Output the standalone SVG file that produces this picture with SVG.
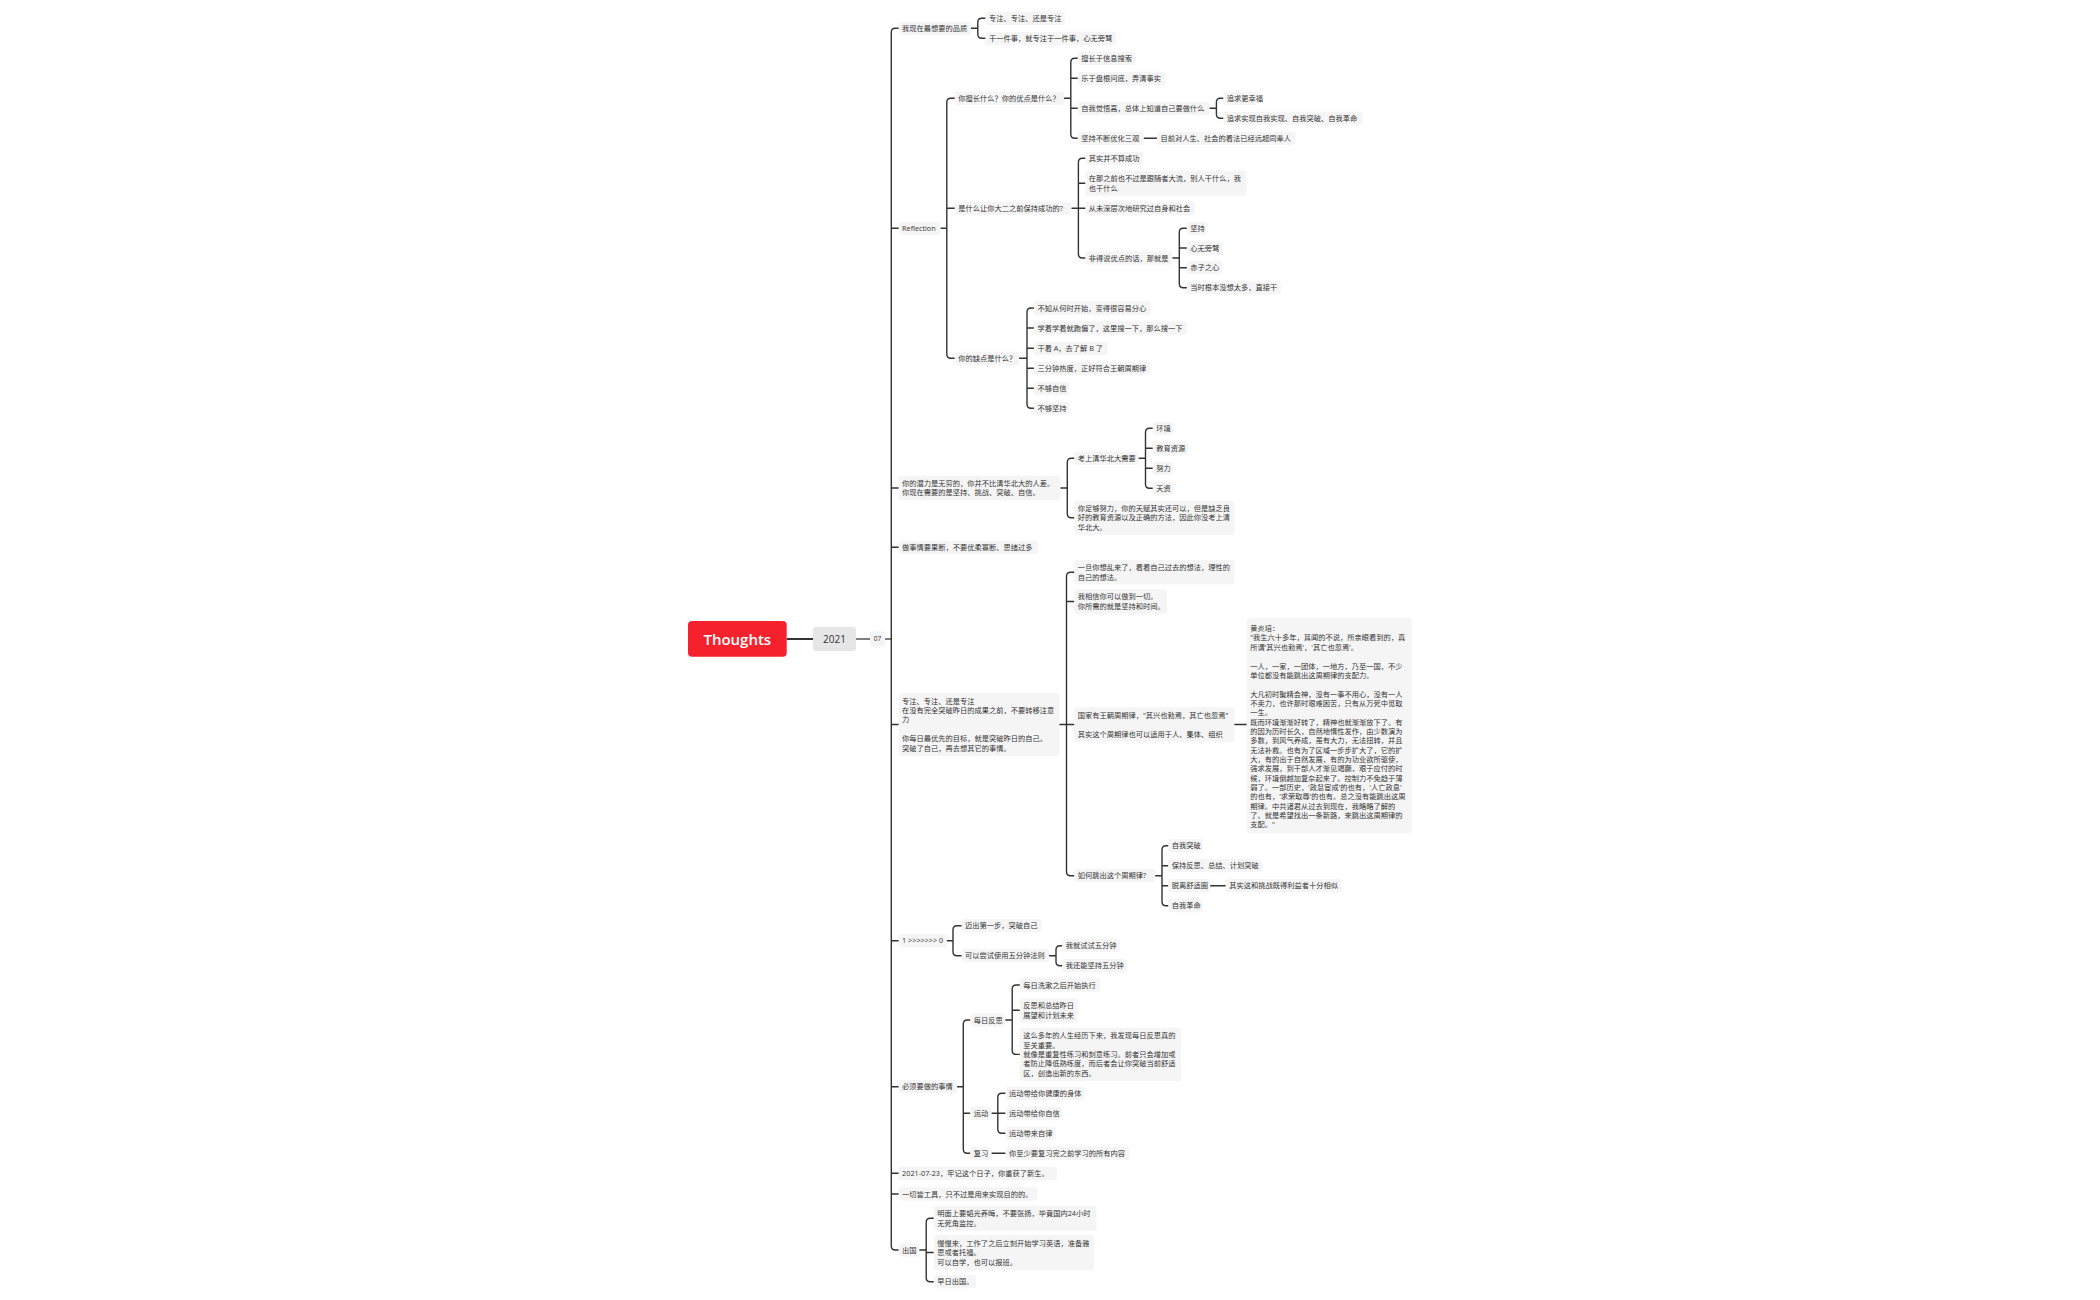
<svg xmlns="http://www.w3.org/2000/svg" width="2100" height="1300" viewBox="0 0 2100 1300">
<style>
.n rect{fill:#f5f5f5}
.t{font-family:"Open Sans","Noto Sans CJK SC",sans-serif;font-size:7.25px;fill:#333}
.c{fill:none;stroke:#333;stroke-width:1.4;stroke-linecap:round}
</style>
<rect width="2100" height="1300" fill="#fff"/>

<!-- connectors -->
<g id="connectors">
<path d="M786.7 639H813" fill="none" stroke="#333" stroke-width="2"/>
<path d="M856 639H870M885 639H891.3" fill="none" stroke="#555" stroke-width="1.3"/>
<path class="c" stroke-width="2" d="M898.6 28.3H895.3Q891.3 28.3 891.3 32.3V1246Q891.3 1250 895.3 1250H898.6M891.3 228.3H898.6M891.3 488H898.6M891.3 547.3H898.6M891.3 724.5H898.6M891.3 940.7H898.6M891.3 1086.7H898.6M891.3 1173.3H898.6M891.3 1194H898.6"/>
<path class="c" d="M970.9 28.3H977.8M985.4 18.3H981.8Q977.8 18.3 977.8 22.3V34.3Q977.8 38.3 981.8 38.3H985.4"/>
<path class="c" d="M940.6 228.3H946.8M954.7 98.3H950.8Q946.8 98.3 946.8 102.3V354.3Q946.8 358.3 950.8 358.3H954.7M946.8 208.3H954.7"/>
<path class="c" d="M1063.9 98.3H1070.8M1077.7 58.3H1074.8Q1070.8 58.3 1070.8 62.3V134.3Q1070.8 138.3 1074.8 138.3H1077.7M1070.8 78.3H1077.7M1070.8 108.3H1077.7"/>
<path class="c" d="M1209.6 108.3H1216.4M1223.3 98.3H1220.4Q1216.4 98.3 1216.4 102.3V114.3Q1216.4 118.3 1220.4 118.3H1223.3"/>
<path class="c" d="M1143.8 138.3H1156.9"/>
<path class="c" d="M1071.5 208.3H1078.4M1085.3 158.3H1082.4Q1078.4 158.3 1078.4 162.3V254Q1078.4 258 1082.4 258H1085.3M1078.4 183.2H1085.3M1078.4 208.3H1085.3"/>
<path class="c" d="M1172.4 258H1179.3M1186.8 228.3H1183.3Q1179.3 228.3 1179.3 232.3V283.7Q1179.3 287.7 1183.3 287.7H1186.8M1179.3 248H1186.8M1179.3 267.7H1186.8"/>
<path class="c" d="M1019.1 358.3H1027M1033.9 308H1031Q1027 308 1027 312V404.3Q1027 408.3 1031 408.3H1033.9M1027 328H1033.9M1027 348.3H1033.9M1027 368.3H1033.9M1027 388.3H1033.9"/>
<path class="c" d="M1060.5 488H1067.3M1074.2 458.3H1071.3Q1067.3 458.3 1067.3 462.3V513.8Q1067.3 517.8 1071.3 517.8H1074.2"/>
<path class="c" d="M1138.6 458.3H1145.5M1152.7 428.3H1149.5Q1145.5 428.3 1145.5 432.3V484.3Q1145.5 488.3 1149.5 488.3H1152.7M1145.5 448.3H1152.7M1145.5 468.3H1152.7"/>
<path class="c" d="M1059.4 724.5H1066.5M1074.2 572.2H1070.5Q1066.5 572.2 1066.5 576.2V871.7Q1066.5 875.7 1070.5 875.7H1074.2M1066.5 601.5H1074.2M1066.5 724.5H1074.2"/>
<path class="c" d="M1234.4 724.5H1246.7"/>
<path class="c" d="M1155.2 875.7H1162M1168.2 845.7H1166Q1162 845.7 1162 849.7V901.7Q1162 905.7 1166 905.7H1168.2M1162 865.7H1168.2M1162 885.7H1168.2"/>
<path class="c" d="M1210.2 885.7H1225.7"/>
<path class="c" d="M946.8 940.7H953M961.6 925.7H957Q953 925.7 953 929.7V951.7Q953 955.7 957 955.7H961.6"/>
<path class="c" d="M1049.1 955.7H1056M1062.2 945.7H1060Q1056 945.7 1056 949.7V961.7Q1056 965.7 1060 965.7H1062.2"/>
<path class="c" d="M957.1 1086.7H963.3M970.2 1020H967.3Q963.3 1020 963.3 1024V1149.3Q963.3 1153.3 967.3 1153.3H970.2M963.3 1113.3H970.2"/>
<path class="c" d="M1005.4 1020H1012.2M1019.8 985H1016.2Q1012.2 985 1012.2 989V1050.4Q1012.2 1054.4 1016.2 1054.4H1019.8M1012.2 1010.3H1019.8"/>
<path class="c" d="M991.6 1113.3H997.8M1005.4 1093.3H1001.8Q997.8 1093.3 997.8 1097.3V1129.3Q997.8 1133.3 1001.8 1133.3H1005.4M997.8 1113.3H1005.4"/>
<path class="c" d="M991.6 1153.3H1005.4"/>
<path class="c" d="M919.3 1250H926.2M933.7 1218.2H930.2Q926.2 1218.2 926.2 1222.2V1277.7Q926.2 1281.7 930.2 1281.7H933.7M926.2 1252.5H933.7"/>
</g>

<!-- central topic and date nodes -->
<g id="root"><rect x="688" y="621" width="98.7" height="35.7" rx="4" fill="#f5222d"/><text x="737.3" y="644.5" text-anchor="middle" font-family="'Open Sans','Liberation Sans',sans-serif" font-size="15" font-weight="600" fill="#fff">Thoughts</text></g>
<g id="year"><rect x="813" y="627" width="43" height="24" rx="3" fill="#e6e6e6"/><text x="834.5" y="642.6" text-anchor="middle" font-family="'Open Sans','Liberation Sans',sans-serif" font-size="10" fill="#333">2021</text></g>
<g id="month"><rect x="870" y="631.3" width="15" height="15.4" rx="3" fill="#f5f5f5"/><text x="877.5" y="641.4" text-anchor="middle" font-family="'Open Sans','Liberation Sans',sans-serif" font-size="6.5" fill="#333">07</text></g>

<!-- 我现在最想要的品质 -->
<g id="n-a" class="n"><rect x="898.6" y="21.65" width="72.3" height="13.3" rx="3"/><text class="t" x="902.1" y="30.9">我现在最想要的品质</text></g>
<g id="n-a1" class="n"><rect x="985.4" y="11.65" width="79.2" height="13.3" rx="3"/><text class="t" x="988.9" y="20.9">专注、专注、还是专注</text></g>
<g id="n-a2" class="n"><rect x="985.4" y="31.65" width="130.8" height="13.3" rx="3"/><text class="t" x="988.9" y="40.9">干一件事，就专注于一件事，心无旁骛</text></g>

<!-- Reflection -->
<g id="n-b" class="n"><rect x="898.6" y="221.65" width="42" height="13.3" rx="3"/><text class="t" x="902.1" y="230.9">Reflection</text></g>
<g id="n-b1" class="n"><rect x="954.7" y="91.65" width="109.2" height="13.3" rx="3"/><text class="t" x="958.2" y="100.9">你擅长什么？你的优点是什么？</text></g>
<g id="n-b1a" class="n"><rect x="1077.7" y="51.65" width="57.8" height="13.3" rx="3"/><text class="t" x="1081.2" y="60.9">擅长于信息搜索</text></g>
<g id="n-b1b" class="n"><rect x="1077.7" y="71.65" width="87.8" height="13.3" rx="3"/><text class="t" x="1081.2" y="80.9">乐于盘根问底，弄清事实</text></g>
<g id="n-b1c" class="n"><rect x="1077.7" y="101.65" width="131.9" height="13.3" rx="3"/><text class="t" x="1081.2" y="110.9">自我觉悟高，总体上知道自己要做什么</text></g>
<g id="n-b1c1" class="n"><rect x="1223.3" y="91.65" width="33.4" height="13.3" rx="3"/><text class="t" x="1226.8" y="100.9">追求更幸福</text></g>
<g id="n-b1c2" class="n"><rect x="1223.3" y="111.65" width="139.2" height="13.3" rx="3"/><text class="t" x="1226.8" y="120.9">追求实现自我实现、自我突破、自我革命</text></g>
<g id="n-b1d" class="n"><rect x="1077.7" y="131.65" width="66.1" height="13.3" rx="3"/><text class="t" x="1081.2" y="140.9">坚持不断优化三观</text></g>
<g id="n-b1d1" class="n"><rect x="1156.9" y="131.65" width="138.7" height="13.3" rx="3"/><text class="t" x="1160.4" y="140.9">目前对人生、社会的看法已经远超同辈人</text></g>
<g id="n-b2" class="n"><rect x="954.7" y="201.65" width="116.8" height="13.3" rx="3"/><text class="t" x="958.2" y="210.9">是什么让你大二之前保持成功的?</text></g>
<g id="n-b2a" class="n"><rect x="1085.3" y="151.65" width="57.8" height="13.3" rx="3"/><text class="t" x="1088.8" y="160.9">其实并不算成功</text></g>
<g id="n-b2b" class="n"><rect x="1085.3" y="170.7" width="161.1" height="25" rx="3"/><text class="t"><tspan x="1088.8" y="181.1">在那之前也不过是跟随者大流，别人干什么，我</tspan><tspan x="1088.8" y="190.5">也干什么</tspan></text></g>
<g id="n-b2c" class="n"><rect x="1085.3" y="201.65" width="109.5" height="13.3" rx="3"/><text class="t" x="1088.8" y="210.9">从未深层次地研究过自身和社会</text></g>
<g id="n-b2d" class="n"><rect x="1085.3" y="251.35" width="87.1" height="13.3" rx="3"/><text class="t" x="1088.8" y="260.6">非得说优点的话，那就是</text></g>
<g id="n-b2d1" class="n"><rect x="1186.8" y="221.65" width="20" height="13.3" rx="3"/><text class="t" x="1190.3" y="230.9">坚持</text></g>
<g id="n-b2d2" class="n"><rect x="1186.8" y="241.35" width="35.5" height="13.3" rx="3"/><text class="t" x="1190.3" y="250.6">心无旁骛</text></g>
<g id="n-b2d3" class="n"><rect x="1186.8" y="261.05" width="35.5" height="13.3" rx="3"/><text class="t" x="1190.3" y="270.3">赤子之心</text></g>
<g id="n-b2d4" class="n"><rect x="1186.8" y="281.05" width="94" height="13.3" rx="3"/><text class="t" x="1190.3" y="290.3">当时根本没想太多，直接干</text></g>
<g id="n-b3" class="n"><rect x="954.7" y="351.65" width="64.4" height="13.3" rx="3"/><text class="t" x="958.2" y="360.9">你的缺点是什么？</text></g>
<g id="n-b3a" class="n"><rect x="1033.9" y="301.35" width="116.8" height="13.3" rx="3"/><text class="t" x="1037.4" y="310.6">不知从何时开始，变得很容易分心</text></g>
<g id="n-b3b" class="n"><rect x="1033.9" y="321.35" width="152.9" height="13.3" rx="3"/><text class="t" x="1037.4" y="330.6">学着学着就跑偏了，这里搜一下，那么搜一下</text></g>
<g id="n-b3c" class="n"><rect x="1033.9" y="341.65" width="73.7" height="13.3" rx="3"/><text class="t" x="1037.4" y="350.9">干着 A，去了解 B 了</text></g>
<g id="n-b3d" class="n"><rect x="1033.9" y="361.65" width="116.8" height="13.3" rx="3"/><text class="t" x="1037.4" y="370.9">三分钟热度，正好符合王朝周期律</text></g>
<g id="n-b3e" class="n"><rect x="1033.9" y="381.65" width="35.1" height="13.3" rx="3"/><text class="t" x="1037.4" y="390.9">不够自信</text></g>
<g id="n-b3f" class="n"><rect x="1033.9" y="401.65" width="35.1" height="13.3" rx="3"/><text class="t" x="1037.4" y="410.9">不够坚持</text></g>

<!-- 潜力 -->
<g id="n-c" class="n"><rect x="898.6" y="475.7" width="161.9" height="24.6" rx="3"/><text class="t"><tspan x="902.1" y="485.9">你的潜力是无穷的，你并不比清华北大的人差。</tspan><tspan x="902.1" y="495.3">你现在需要的是坚持、挑战、突破、自信。</tspan></text></g>
<g id="n-c1" class="n"><rect x="1074.2" y="451.65" width="64.4" height="13.3" rx="3"/><text class="t" x="1077.7" y="460.9">考上清华北大需要</text></g>
<g id="n-c1a" class="n"><rect x="1152.7" y="421.65" width="20.7" height="13.3" rx="3"/><text class="t" x="1156.2" y="430.9">环境</text></g>
<g id="n-c1b" class="n"><rect x="1152.7" y="441.65" width="35.2" height="13.3" rx="3"/><text class="t" x="1156.2" y="450.9">教育资源</text></g>
<g id="n-c1c" class="n"><rect x="1152.7" y="461.65" width="20.7" height="13.3" rx="3"/><text class="t" x="1156.2" y="470.9">努力</text></g>
<g id="n-c1d" class="n"><rect x="1152.7" y="481.65" width="20.7" height="13.3" rx="3"/><text class="t" x="1156.2" y="490.9">天资</text></g>
<g id="n-c2" class="n"><rect x="1074.2" y="500.7" width="160.2" height="34.2" rx="3"/><text class="t"><tspan x="1077.7" y="511">你足够努力，你的天赋其实还可以，但是缺乏良</tspan><tspan x="1077.7" y="520.4">好的教育资源以及正确的方法，因此你没考上清</tspan><tspan x="1077.7" y="529.8">华北大。</tspan></text></g>

<g id="n-d" class="n"><rect x="898.6" y="540.65" width="139.5" height="13.3" rx="3"/><text class="t" x="902.1" y="549.9">做事情要果断，不要优柔寡断、思绪过多</text></g>

<!-- 专注 -->
<g id="n-e" class="n"><rect x="898.6" y="693" width="160.8" height="63" rx="3"/><text class="t"><tspan x="902.1" y="703.6">专注、专注、还是专注</tspan><tspan x="902.1" y="713">在没有完全突破昨日的成果之前，不要转移注意</tspan><tspan x="902.1" y="722.4">力</tspan><tspan x="902.1" y="741.2">你每日最优先的目标，就是突破昨日的自己。</tspan><tspan x="902.1" y="750.6">突破了自己，再去想其它的事情。</tspan></text></g>
<g id="n-e1" class="n"><rect x="1074.2" y="560" width="160.2" height="24.4" rx="3"/><text class="t"><tspan x="1077.7" y="570.1">一旦你想乱来了，看看自己过去的想法，理性的</tspan><tspan x="1077.7" y="579.5">自己的想法。</tspan></text></g>
<g id="n-e2" class="n"><rect x="1074.2" y="589.3" width="93" height="24.4" rx="3"/><text class="t"><tspan x="1077.7" y="599.4">我相信你可以做到一切。</tspan><tspan x="1077.7" y="608.8">你所需的就是坚持和时间。</tspan></text></g>
<g id="n-e3" class="n"><rect x="1074.2" y="707.3" width="160.2" height="34.4" rx="3"/><text class="t"><tspan x="1077.7" y="717.7">国家有王朝周期律，"其兴也勃焉，其亡也忽焉"</tspan><tspan x="1077.7" y="736.5">其实这个周期律也可以适用于人、集体、组织</tspan></text></g>
<g id="n-e3a" class="n"><rect x="1246.7" y="618.3" width="165" height="215" rx="3"/><text class="t">
<tspan x="1250.2" y="631.1">黄炎培：</tspan>
<tspan x="1250.2" y="640.45">"我生六十多年，耳闻的不说，所亲眼看到的，真</tspan>
<tspan x="1250.2" y="649.8">所谓'其兴也勃焉'，'其亡也忽焉'。</tspan>
<tspan x="1250.2" y="668.5">一人，一家，一团体，一地方，乃至一国，不少</tspan>
<tspan x="1250.2" y="677.85">单位都没有能跳出这周期律的支配力。</tspan>
<tspan x="1250.2" y="696.55">大凡初时聚精会神，没有一事不用心，没有一人</tspan>
<tspan x="1250.2" y="705.9">不卖力，也许那时艰难困苦，只有从万死中觅取</tspan>
<tspan x="1250.2" y="715.25">一生。</tspan>
<tspan x="1250.2" y="724.6">既而环境渐渐好转了，精神也就渐渐放下了。有</tspan>
<tspan x="1250.2" y="733.95">的因为历时长久，自然地惰性发作，由少数演为</tspan>
<tspan x="1250.2" y="743.3">多数，到风气养成，虽有大力，无法扭转，并且</tspan>
<tspan x="1250.2" y="752.65">无法补救。也有为了区域一步步扩大了，它的扩</tspan>
<tspan x="1250.2" y="762">大，有的出于自然发展，有的为功业欲所驱使，</tspan>
<tspan x="1250.2" y="771.35">强求发展，到干部人才渐见竭蹶，艰于应付的时</tspan>
<tspan x="1250.2" y="780.7">候，环境倒越加复杂起来了。控制力不免趋于薄</tspan>
<tspan x="1250.2" y="790.05">弱了。一部历史，'政怠宦成'的也有，'人亡政息'</tspan>
<tspan x="1250.2" y="799.4">的也有，'求荣取辱'的也有。总之没有能跳出这周</tspan>
<tspan x="1250.2" y="808.75">期律。中共诸君从过去到现在，我略略了解的</tspan>
<tspan x="1250.2" y="818.1">了。就是希望找出一条新路，来跳出这周期律的</tspan>
<tspan x="1250.2" y="827.45">支配。"</tspan>
</text></g>
<g id="n-e4" class="n"><rect x="1074.2" y="869.05" width="81" height="13.3" rx="3"/><text class="t" x="1077.7" y="878.3">如何跳出这个周期律?</text></g>
<g id="n-e4a" class="n"><rect x="1168.2" y="839.05" width="34.5" height="13.3" rx="3"/><text class="t" x="1171.7" y="848.3">自我突破</text></g>
<g id="n-e4b" class="n"><rect x="1168.2" y="859.05" width="93.7" height="13.3" rx="3"/><text class="t" x="1171.7" y="868.3">保持反思、总结、计划突破</text></g>
<g id="n-e4c" class="n"><rect x="1168.2" y="879.05" width="42" height="13.3" rx="3"/><text class="t" x="1171.7" y="888.3">脱离舒适圈</text></g>
<g id="n-e4c1" class="n"><rect x="1225.7" y="879.05" width="115.4" height="13.3" rx="3"/><text class="t" x="1229.2" y="888.3">其实这和挑战既得利益者十分相似</text></g>
<g id="n-e4d" class="n"><rect x="1168.2" y="899.05" width="34.5" height="13.3" rx="3"/><text class="t" x="1171.7" y="908.3">自我革命</text></g>

<!-- 1 >>>>>>> 0 -->
<g id="n-f" class="n"><rect x="898.6" y="934.05" width="48.2" height="13.3" rx="3"/><text class="t" x="902.1" y="943.3">1 &gt;&gt;&gt;&gt;&gt;&gt;&gt; 0</text></g>
<g id="n-f1" class="n"><rect x="961.6" y="919.05" width="79.9" height="13.3" rx="3"/><text class="t" x="965.1" y="928.3">迈出第一步，突破自己</text></g>
<g id="n-f2" class="n"><rect x="961.6" y="949.05" width="87.5" height="13.3" rx="3"/><text class="t" x="965.1" y="958.3">可以尝试使用五分钟法则</text></g>
<g id="n-f2a" class="n"><rect x="1062.2" y="939.05" width="57.8" height="13.3" rx="3"/><text class="t" x="1065.7" y="948.3">我就试试五分钟</text></g>
<g id="n-f2b" class="n"><rect x="1062.2" y="959.05" width="65.4" height="13.3" rx="3"/><text class="t" x="1065.7" y="968.3">我还能坚持五分钟</text></g>

<!-- 必须要做的事情 -->
<g id="n-g" class="n"><rect x="898.6" y="1080.05" width="58.5" height="13.3" rx="3"/><text class="t" x="902.1" y="1089.3">必须要做的事情</text></g>
<g id="n-g1" class="n"><rect x="970.2" y="1013.35" width="35.2" height="13.3" rx="3"/><text class="t" x="973.7" y="1022.6">每日反思</text></g>
<g id="n-g1a" class="n"><rect x="1019.8" y="978.35" width="80.2" height="13.3" rx="3"/><text class="t" x="1023.3" y="987.6">每日洗漱之后开始执行</text></g>
<g id="n-g1b" class="n"><rect x="1019.8" y="998.3" width="57.9" height="24" rx="3"/><text class="t"><tspan x="1023.3" y="1008.2">反思和总结昨日</tspan><tspan x="1023.3" y="1017.6">展望和计划未来</tspan></text></g>
<g id="n-g1c" class="n"><rect x="1019.8" y="1027.7" width="161.2" height="53.4" rx="3"/><text class="t"><tspan x="1023.3" y="1038.2">这么多年的人生经历下来，我发现每日反思真的</tspan><tspan x="1023.3" y="1047.6">至关重要。</tspan><tspan x="1023.3" y="1057">就像是重复性练习和刻意练习。前者只会增加或</tspan><tspan x="1023.3" y="1066.4">者防止降低熟练度，而后者会让你突破当前舒适</tspan><tspan x="1023.3" y="1075.8">区，创造出新的东西。</tspan></text></g>
<g id="n-g2" class="n"><rect x="970.2" y="1106.65" width="21.4" height="13.3" rx="3"/><text class="t" x="973.7" y="1115.9">运动</text></g>
<g id="n-g2a" class="n"><rect x="1005.4" y="1086.65" width="79.2" height="13.3" rx="3"/><text class="t" x="1008.9" y="1095.9">运动带给你健康的身体</text></g>
<g id="n-g2b" class="n"><rect x="1005.4" y="1106.65" width="56.8" height="13.3" rx="3"/><text class="t" x="1008.9" y="1115.9">运动带给你自信</text></g>
<g id="n-g2c" class="n"><rect x="1005.4" y="1126.65" width="49.9" height="13.3" rx="3"/><text class="t" x="1008.9" y="1135.9">运动带来自律</text></g>
<g id="n-g3" class="n"><rect x="970.2" y="1146.65" width="21.4" height="13.3" rx="3"/><text class="t" x="973.7" y="1155.9">复习</text></g>
<g id="n-g3a" class="n"><rect x="1005.4" y="1146.65" width="123.9" height="13.3" rx="3"/><text class="t" x="1008.9" y="1155.9">你至少要复习完之前学习的所有内容</text></g>

<g id="n-h" class="n"><rect x="898.6" y="1166.65" width="158.4" height="13.3" rx="3"/><text class="t" x="902.1" y="1175.9">2021-07-23，牢记这个日子，你重获了新生。</text></g>
<g id="n-i" class="n"><rect x="898.6" y="1187.35" width="138.8" height="13.3" rx="3"/><text class="t" x="902.1" y="1196.6">一切皆工具，只不过是用来实现目的的。</text></g>

<!-- 出国 -->
<g id="n-j" class="n"><rect x="898.6" y="1243.35" width="20.7" height="13.3" rx="3"/><text class="t" x="902.1" y="1252.6">出国</text></g>
<g id="n-j1" class="n"><rect x="933.7" y="1205.7" width="162.9" height="25" rx="3"/><text class="t"><tspan x="937.2" y="1216.1">明面上要韬光养晦，不要张扬，毕竟国内24小时</tspan><tspan x="937.2" y="1225.5">无死角监控。</tspan></text></g>
<g id="n-j2" class="n"><rect x="933.7" y="1235" width="160.5" height="35" rx="3"/><text class="t"><tspan x="937.2" y="1245.7">慢慢来，工作了之后立刻开始学习英语，准备雅</tspan><tspan x="937.2" y="1255.1">思或者托福。</tspan><tspan x="937.2" y="1264.5">可以自学，也可以报班。</tspan></text></g>
<g id="n-j3" class="n"><rect x="933.7" y="1275.05" width="42.3" height="13.3" rx="3"/><text class="t" x="937.2" y="1284.3">早日出国。</text></g>
</svg>
